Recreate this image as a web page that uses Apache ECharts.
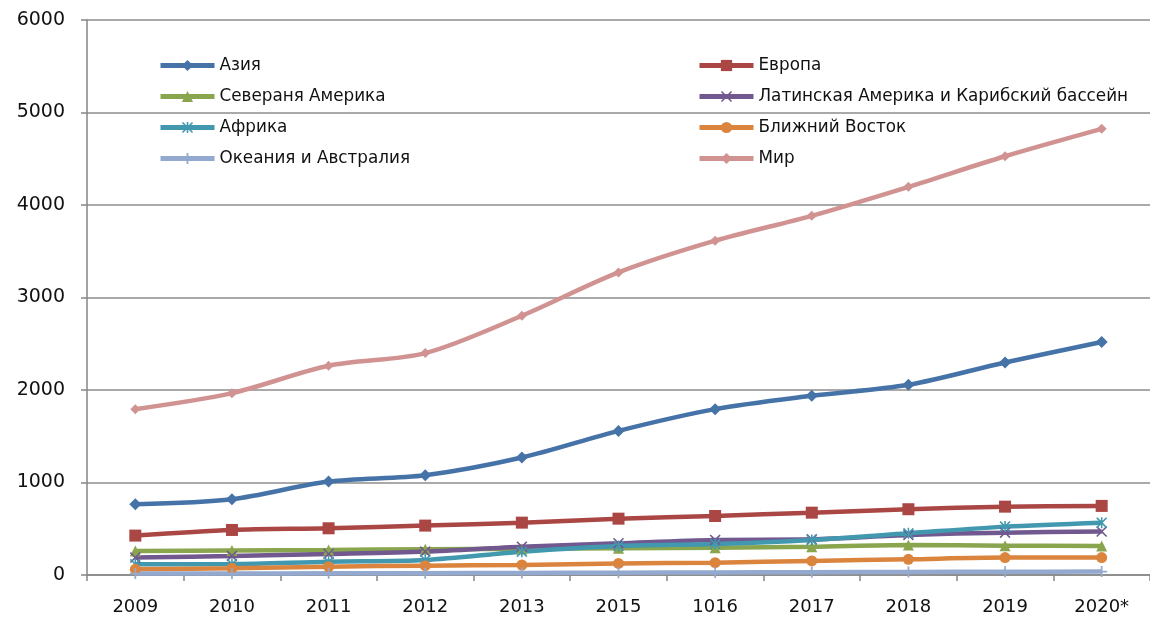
<!DOCTYPE html>
<html>
<head>
<meta charset="utf-8">
<script src="https://cdn.jsdelivr.net/npm/echarts@6/dist/echarts.min.js"></script>
<style>
  html, body { margin: 0; padding: 0; background: #ffffff; }
  #chart { width: 1150px; height: 621px; }
</style>
</head>
<body>
<div id="chart"></div>
<script>
// Categories (years) along the horizontal axis
const years = ['2009', '2010', '2011', '2012', '2013', '2015', '1016', '2017', '2018', '2019', '2020*'];

// Series values by region
const asia       = [765, 819, 1010, 1079, 1270, 1558, 1793, 1937, 2056, 2298, 2519];
const europe     = [426, 487, 505, 534, 566, 609, 638, 674, 711, 739, 747];
const northAm    = [260, 266, 271, 278, 282, 289, 295, 306, 325, 317, 314];
const latinAm    = [188, 206, 227, 253, 306, 343, 379, 386, 433, 458, 469];
const africa     = [115, 119, 144, 162, 252, 314, 335, 379, 451, 523, 566];
const middleEast = [62, 72, 90, 101, 108, 125, 133, 152, 170, 188, 188];
const oceania    = [15, 17, 18, 20, 22, 25, 28, 30, 33, 35, 37];
const world      = [1793, 1966, 2262, 2399, 2803, 3271, 3614, 3883, 4196, 4527, 4823];

// Value axis ticks
const yTicks = { min: 0, max: 6000, interval: 1000 };

// Marker shapes
const symX = 'path://M1,0L5,4L9,0L10,1L6,5L10,9L9,10L5,6L1,10L0,9L4,5L0,1Z';
const symStar = 'path://M1,0L5,4L9,0L10,1L6,5L10,9L9,10L5,6L1,10L0,9L4,5L0,1Z M4.3,0L5.7,0L5.7,10L4.3,10Z';
const symPlus = 'path://M4.2,0L5.8,0L5.8,4.2L10,4.2L10,5.8L5.8,5.8L5.8,10L4.2,10L4.2,5.8L0,5.8L0,4.2L4.2,4.2Z';

function line(name, data, color, symbol, size) {
  return {
    name: name,
    type: 'line',
    data: data,
    smooth: 0.3,
    symbol: symbol,
    symbolSize: size,
    showAllSymbol: true,
    lineStyle: { color: color, width: 4.5 },
    itemStyle: { color: color },
    emphasis: { disabled: true }
  };
}

const series = [
  line('Азия', asia, '#4572A7', 'diamond', 12),
  line('Европа', europe, '#AA4643', 'rect', 12),
  line('Севераня Америка', northAm, '#89A54E', 'triangle', 11),
  line('Латинская Америка и Карибский бассейн', latinAm, '#71588F', symX, 11),
  line('Африка', africa, '#4198AF', symStar, 11),
  line('Ближний Восток', middleEast, '#DB843D', 'circle', 11),
  line('Океания и Австралия', oceania, '#93A9CF', symPlus, 11),
  line('Мир', world, '#D19392', 'diamond', 10)
];

const legendText = { fontFamily: 'DejaVu Sans', fontSize: 16.8, color: '#111111' };
const legendBase = {
  orient: 'vertical',
  top: 57,
  itemWidth: 54,
  itemHeight: 14,
  itemGap: 14,
  padding: 0,
  textStyle: legendText,
  lineStyle: { width: 5 },
  selectedMode: false
};

const chart = echarts.init(document.getElementById('chart'), null, { renderer: 'canvas' });
chart.setOption({
  animation: false,
  backgroundColor: '#ffffff',
  grid: { left: 87, right: -8, top: 20, bottom: 46, containLabel: false },
  legend: [
    Object.assign({}, legendBase, {
      left: 158,
      data: ['Азия', 'Севераня Америка', 'Африка', 'Океания и Австралия']
    }),
    Object.assign({}, legendBase, {
      left: 697,
      data: ['Европа', 'Латинская Америка и Карибский бассейн', 'Ближний Восток', 'Мир']
    })
  ],
  xAxis: {
    type: 'category',
    data: years,
    boundaryGap: true,
    axisLine: { lineStyle: { color: '#868686', width: 1.5 } },
    axisTick: { show: true, length: 6, lineStyle: { color: '#868686', width: 1.5 } },
    axisLabel: { margin: 23, fontFamily: 'DejaVu Sans', fontSize: 18, color: '#111111' }
  },
  yAxis: {
    type: 'value',
    min: yTicks.min,
    max: yTicks.max,
    interval: yTicks.interval,
    axisLine: { show: true, lineStyle: { color: '#868686', width: 1.5 } },
    axisTick: { show: true, length: 6, lineStyle: { color: '#868686', width: 1.5 } },
    splitLine: { show: true, lineStyle: { color: '#8c8c8c', width: 1.5 } },
    axisLabel: {
      margin: 22,
      fontFamily: 'DejaVu Sans',
      fontSize: 19,
      color: '#111111',
      formatter: function (v) { return String(v); }
    }
  },
  series: series
});
</script>
</body>
</html>
